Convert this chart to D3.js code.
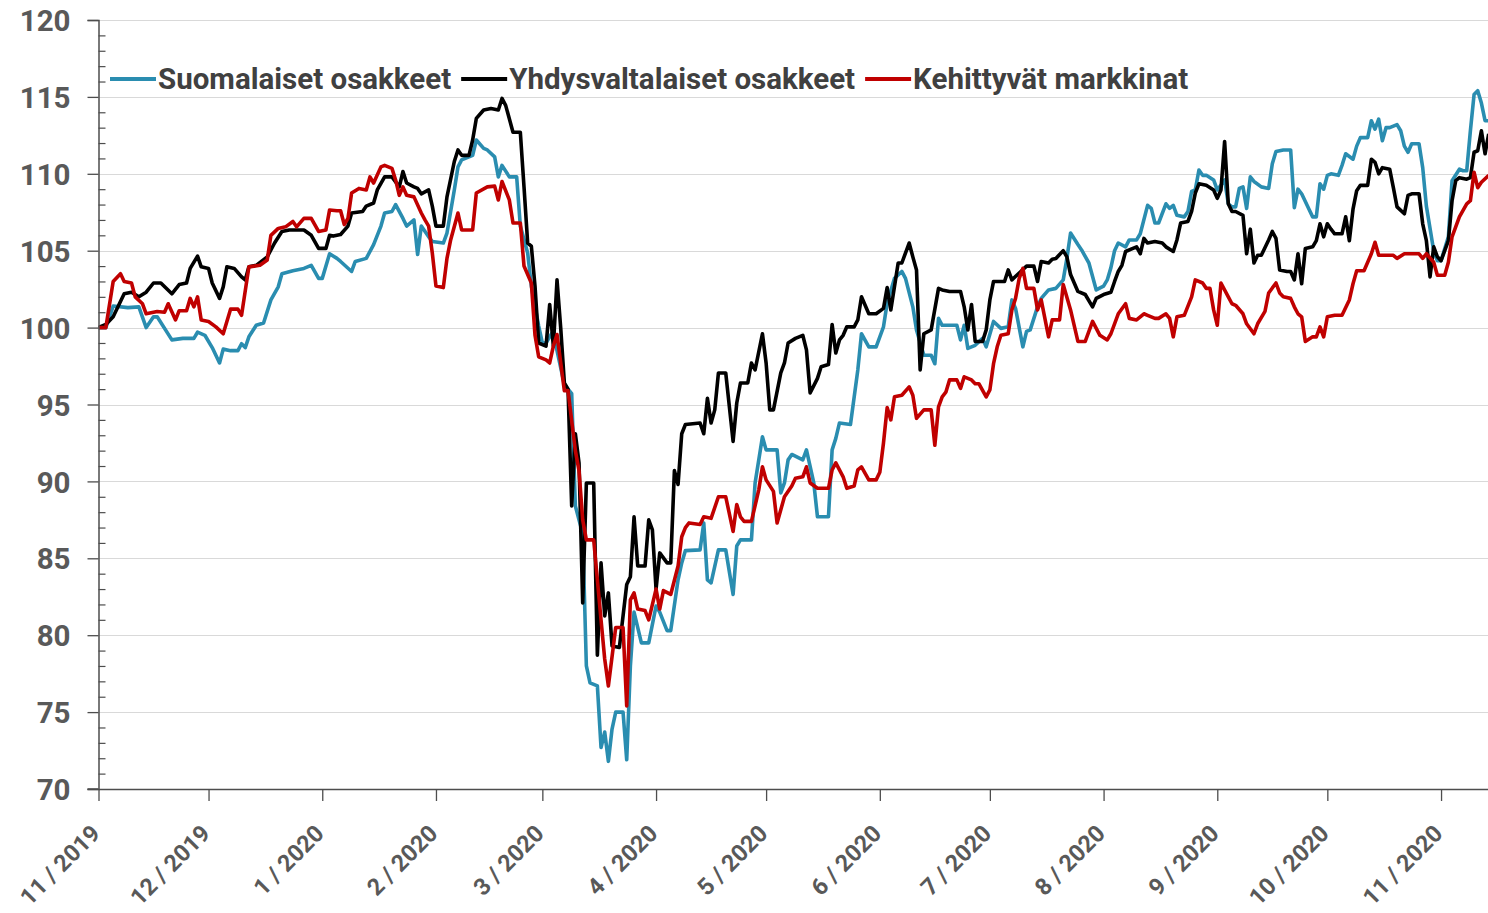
<!DOCTYPE html>
<html><head><meta charset="utf-8">
<script src="https://cdn.jsdelivr.net/npm/d3@7"></script>
<style>
html,body{margin:0;padding:0;background:#fff;overflow:hidden;}
svg{display:block;}
text{font-family:Roboto,"Noto Sans",sans-serif;}
</style></head><body>
<svg id="chart" width="1488" height="913"></svg>
<script>
// ---- data (day offsets from startDate, index value) ----
const startDate = [2019, 10, 1];          // 1 Nov 2019
const endDay = 378.8;                       // visible end of the time axis
const yTicks = [70, 75, 80, 85, 90, 95, 100, 105, 110, 115, 120];
const xTickMonths = [[2019,10],[2019,11],[2020,0],[2020,1],[2020,2],[2020,3],[2020,4],[2020,5],[2020,6],[2020,7],[2020,8],[2020,9],[2020,10]];
const xTickLabels = ["11 / 2019","12 / 2019","1 / 2020","2 / 2020","3 / 2020","4 / 2020","5 / 2020","6 / 2020","7 / 2020","8 / 2020","9 / 2020","10 / 2020","11 / 2020"];
const seriesNames = ["Suomalaiset osakkeet", "Yhdysvaltalaiset osakkeet", "Kehittyvät markkinat"];
const seriesColors = ["#2a8db0", "#000000", "#c00000"];

const suomalaiset = [[0,100],[2,100],[4,101.4],[8,101.3],[11,101.35],[13,100.0],[15,100.7],[16,100.7],[20,99.2],[23,99.3],[26,99.3],[27,99.7],[29,99.5],[31,98.7],[33,97.7],[34,98.6],[36,98.5],[38,98.5],[39,98.95],[40,98.7],[41,99.4],[43,100.15],[45,100.3],[47,101.8],[49,102.65],[50,103.5],[53,103.7],[56,103.85],[58,104.05],[60,103.2],[61,103.2],[63,104.8],[65,104.5],[66,104.3],[69,103.65],[70,104.3],[73,104.5],[75,105.4],[77,106.6],[78,107.45],[80,107.55],[81,108.0],[83,107.1],[84,106.6],[86,107.0],[87,104.75],[88,106.6],[90,105.9],[91,105.6],[94,105.5],[95,106.15],[97,108.95],[98,110.45],[99,110.9],[102,111.2],[103,112.2],[105,111.65],[106,111.55],[108,111.1],[109,109.8],[110,110.55],[112,109.8],[114,109.8],[115,106.6],[117,104.85],[118,102.7],[120,100.1],[121,99.0],[122,99.0],[124,99.8],[125,98.5],[127,96.3],[129,95.7],[130,88.4],[132,86.6],[133,78.0],[134,76.9],[136,76.7],[137,72.7],[138,73.7],[139,71.8],[140,73.9],[141,75.0],[143,75.0],[144,71.9],[145,78.0],[146,81.5],[148,79.5],[150,79.5],[152,81.9],[153,81.5],[155,80.3],[156,80.3],[158,83.6],[159,84.7],[160,85.5],[164,85.55],[165,87.3],[166,83.6],[167,83.4],[169,85.55],[171,85.55],[173,82.65],[174,85.8],[175,86.2],[178,86.2],[179,89.9],[181,92.9],[182,92.05],[185,92.05],[186,89.25],[187,89.9],[188,91.4],[189,91.75],[192,91.4],[193,92.05],[195,89.9],[196,87.7],[199,87.7],[200,92.05],[201,92.8],[202,93.8],[205,93.7],[207,97.25],[208,99.6],[210,98.75],[212,98.75],[214,100.05],[215,101.6],[217,103.2],[219,103.65],[220,103.2],[222,101.35],[223,99.85],[225,98.2],[227,98.2],[228,97.65],[229,100.6],[230,100.15],[234,100.15],[235,99.2],[236,100.15],[237,98.65],[239,98.85],[241,99.3],[242,98.75],[244,100.4],[246,99.95],[248,100.05],[249,101.8],[250,101.25],[252,98.75],[253,99.75],[254,99.85],[256,101.35],[257,101.9],[259,102.45],[261,102.55],[263,103.1],[264,104.5],[265,106.15],[267,105.4],[268,105.05],[270,104.2],[272,102.45],[274,102.7],[275,103.1],[276,103.9],[277,105.0],[278,105.5],[280,105.25],[281,105.7],[283,105.7],[284,106.1],[286,107.95],[287,107.75],[288,106.8],[289,106.8],[291,108.05],[292,107.75],[293,107.95],[294,107.3],[296,107.2],[297,107.55],[298,108.85],[299,108.95],[300,110.25],[301,109.9],[302,109.9],[304,109.6],[305,108.95],[307,109.6],[308,108.05],[309,107.85],[310,107.85],[311,109.05],[312,109.15],[313,107.75],[314,109.8],[315,109.5],[317,109.15],[319,109.05],[320,110.65],[321,111.45],[323,111.55],[325,111.55],[326,107.8],[327,109.0],[328,108.7],[330,107.7],[331,107.2],[332,107.2],[333,109.35],[334,109.0],[335,109.9],[336,110.0],[338,109.9],[339,110.55],[340,111.3],[342,110.95],[343,111.8],[344,112.35],[346,112.35],[347,113.45],[348,112.9],[349,113.55],[350,112.15],[351,113.0],[352,113.0],[354,113.2],[355,112.8],[356,111.8],[357,111.4],[358,111.95],[360,111.95],[361,110.4],[362,107.9],[364,105.0],[365,104.35],[366,104.35],[368,105.9],[369,109.55],[371,110.3],[372,110.2],[373,110.2],[374,112.8],[375,115.15],[376,115.4],[377,114.6],[378,113.45],[379,113.45]];

const yhdysvaltalaiset = [[0,100],[2,100.2],[4,100.7],[7,102.2],[9,102.3],[11,102.0],[13,102.3],[15,102.9],[17,102.9],[20,102.2],[22,102.8],[24,102.9],[25,103.85],[27,104.65],[28,103.95],[30,103.85],[31,102.9],[33,101.9],[34,102.65],[35,103.95],[37,103.85],[39,103.3],[40,103.1],[41,103.95],[43,104.05],[46,104.6],[48,105.5],[50,106.25],[52,106.35],[56,106.35],[58,106.0],[60,105.15],[62,105.15],[63,106.0],[64,105.95],[66,106.05],[68,106.6],[69,107.45],[72,107.55],[73,107.9],[75,108.1],[76,108.95],[78,109.8],[80,109.8],[82,109.15],[83,110.15],[84,109.4],[86,109.15],[87,109.05],[88,108.7],[90,108.95],[91,107.9],[92,106.6],[94,106.6],[95,108.5],[97,110.8],[98,111.55],[99,111.2],[101,111.2],[102,112.2],[103,113.6],[105,114.15],[107,114.25],[109,114.15],[110,114.9],[111,114.45],[113,112.7],[115,112.7],[116,109.15],[117,105.5],[118,105.3],[119,102.7],[120,99.0],[122,98.8],[123,101.5],[124,98.8],[125,103.1],[126,100.0],[127,96.4],[128,96.0],[129,88.4],[130,93.1],[131,91.2],[132,82.1],[133,89.9],[135,89.9],[136,78.7],[137,84.7],[138,81.25],[139,82.75],[140,79.3],[142,79.2],[144,83.3],[145,83.8],[146,87.7],[147,84.5],[149,84.5],[150,87.5],[151,86.85],[152,83.0],[153,85.35],[155,84.7],[156,84.7],[157,90.7],[158,89.8],[159,93.1],[160,93.7],[164,93.8],[165,93.1],[166,95.4],[167,93.8],[168,94.65],[169,97.05],[171,97.05],[173,92.6],[174,95.1],[175,96.4],[177,96.4],[178,97.7],[179,97.25],[181,99.6],[182,97.7],[183,94.65],[184,94.65],[186,97.05],[187,97.7],[188,99.0],[190,99.3],[192,99.5],[193,98.55],[194,95.75],[196,96.7],[197,97.45],[199,97.6],[200,100.2],[201,98.35],[202,99.2],[203,99.5],[204,100.05],[206,100.05],[207,100.5],[208,102.0],[210,100.9],[212,100.9],[214,101.25],[215,102.6],[216,101.15],[218,104.2],[219,104.2],[221,105.5],[222,104.6],[223,103.75],[224,97.25],[225,99.6],[227,99.85],[229,102.55],[230,102.45],[232,102.35],[235,102.35],[236,101.35],[237,99.85],[238,101.5],[239,99.1],[241,99.1],[242,99.85],[243,101.8],[244,103.0],[247,103.0],[248,103.75],[249,103.1],[251,103.55],[253,104.0],[255,104.0],[256,103.0],[257,104.3],[259,104.2],[260,104.45],[261,104.5],[263,105.0],[264,104.6],[265,103.45],[267,102.35],[269,102.15],[271,101.35],[272,101.9],[274,102.15],[276,102.3],[277,103.0],[278,103.65],[279,104.05],[280,104.95],[282,105.15],[283,105.25],[284,104.8],[285,105.8],[286,105.5],[288,105.6],[290,105.5],[291,105.25],[293,104.95],[294,105.7],[295,106.8],[297,106.9],[298,107.55],[299,108.75],[300,109.35],[302,109.25],[304,108.95],[305,108.4],[306,108.95],[307,112.1],[308,108.05],[309,107.55],[310,107.55],[312,107.3],[313,104.8],[314,106.4],[315,104.2],[316,104.7],[317,104.7],[319,105.7],[320,106.25],[321,105.8],[322,103.75],[324,103.65],[325,103.65],[326,103.1],[327,104.8],[328,102.85],[329,105.15],[331,105.25],[332,105.65],[333,106.75],[334,105.9],[335,106.75],[336,106.4],[337,106.1],[339,106.1],[340,107.2],[341,105.65],[342,107.7],[343,108.9],[344,109.25],[346,109.25],[347,110.95],[348,110.75],[349,110.0],[350,110.4],[352,110.3],[353,109.1],[354,107.85],[356,107.4],[357,108.6],[358,108.7],[360,108.7],[361,106.75],[362,105.65],[363,103.3],[364,105.25],[365,104.6],[366,104.35],[368,105.65],[369,108.25],[370,109.55],[371,109.75],[373,109.65],[374,109.75],[375,111.4],[376,111.5],[377,112.8],[378,111.3],[379,112.6]];

const kehittyvat = [[0,100],[2,100],[4,103.0],[6,103.5],[7,103.0],[9,102.9],[10,102.0],[12,101.55],[13,100.9],[16,101.05],[18,101.0],[19,101.55],[21,100.5],[22,101.1],[24,101.1],[25,101.9],[26,101.35],[27,102.0],[28,100.5],[30,100.4],[32,100.05],[34,99.6],[36,101.2],[38,101.2],[39,100.8],[41,103.95],[44,104.05],[46,104.4],[47,106.0],[49,106.45],[51,106.55],[53,106.9],[54,106.55],[56,107.1],[58,107.1],[60,106.25],[62,106.35],[63,107.65],[65,107.6],[66,107.6],[67,106.7],[68,107.1],[69,108.75],[71,109.05],[73,108.95],[74,109.8],[75,109.4],[77,110.45],[78,110.55],[80,110.35],[81,109.6],[82,108.6],[83,109.15],[84,108.6],[86,108.5],[88,107.45],[89,107.0],[90,106.6],[91,104.85],[92,102.7],[94,102.6],[95,104.5],[96,105.7],[98,107.45],[99,106.35],[102,106.35],[103,108.75],[106,109.15],[108,109.2],[109,108.3],[110,109.5],[112,108.3],[113,106.8],[115,106.8],[116,104.0],[118,102.9],[119,99.5],[120,98.1],[122,97.9],[123,97.7],[124,98.8],[125,99.55],[127,95.9],[128,95.9],[130,92.0],[131,90.7],[132,87.5],[133,86.2],[135,86.2],[137,81.0],[138,78.45],[139,76.7],[141,80.5],[143,80.5],[144,75.4],[145,82.3],[146,82.75],[147,81.7],[149,81.6],[150,81.0],[152,83.0],[153,81.7],[154,82.9],[156,82.65],[158,84.5],[159,86.4],[160,87.0],[161,87.3],[164,87.2],[165,87.7],[167,87.6],[169,89.0],[171,89.0],[173,86.75],[174,88.5],[175,87.7],[176,87.4],[178,87.4],[180,89.45],[181,90.95],[182,90.1],[184,89.35],[185,87.3],[187,89.0],[189,89.7],[190,90.2],[192,90.3],[193,90.95],[194,89.9],[196,89.55],[199,89.55],[200,90.75],[201,91.2],[203,90.3],[204,89.55],[206,89.7],[207,90.75],[208,90.95],[210,90.1],[212,90.1],[213,90.6],[214,92.5],[215,94.8],[216,94.0],[217,95.5],[219,95.6],[221,96.15],[222,95.6],[223,94.1],[225,94.65],[227,94.65],[228,92.35],[229,94.85],[230,95.5],[231,95.8],[232,96.6],[234,96.6],[235,96.05],[236,96.8],[238,96.6],[239,96.35],[240,96.35],[242,95.5],[243,95.95],[244,97.65],[245,98.75],[246,99.5],[248,99.6],[249,101.15],[250,101.9],[251,103.2],[252,103.85],[253,102.55],[255,102.55],[256,101.15],[257,101.8],[259,99.4],[260,100.5],[262,100.5],[263,102.8],[265,101.15],[267,99.1],[269,99.1],[271,100.4],[273,99.5],[275,99.2],[276,99.6],[278,100.9],[280,101.55],[281,100.6],[283,100.5],[285,100.9],[286,100.8],[288,100.6],[289,100.6],[291,100.9],[292,100.6],[293,99.4],[294,100.7],[296,100.8],[298,102.0],[299,103.1],[301,102.9],[302,102.55],[303,102.55],[304,101.15],[305,100.15],[306,102.9],[308,102.0],[309,101.55],[310,101.45],[312,100.9],[313,100.25],[315,99.6],[316,100.25],[318,101.05],[319,102.25],[321,102.9],[322,102.25],[323,102.0],[325,101.9],[326,101.35],[327,100.9],[328,100.7],[329,99.1],[331,99.4],[332,99.4],[333,100.05],[334,99.4],[335,100.7],[337,100.8],[339,100.8],[341,101.8],[342,102.85],[343,103.7],[345,103.7],[347,104.8],[348,105.55],[349,104.7],[351,104.7],[353,104.7],[354,104.5],[356,104.8],[358,104.8],[360,104.8],[361,104.5],[362,104.8],[364,104.25],[365,103.4],[367,103.4],[368,104.25],[369,105.9],[371,107.2],[373,108.05],[374,108.25],[375,110.1],[376,109.1],[377,109.45],[379,109.9]];

// ---- chart ----
const plot = {left: 98.5, right: 1488, top: 20, bottom: 789};
const t0 = Date.UTC(startDate[0], startDate[1], startDate[2]);
const dayMs = 864e5;
const toDate = d => new Date(t0 + d * dayMs);

const x = d3.scaleUtc().domain([toDate(0), toDate(endDay)]).range([plot.left, plot.right]);
const y = d3.scaleLinear().domain([70, 120]).range([plot.bottom, plot.top]);

const svg = d3.select("#chart");
const axisColor = "#4d4d4d";
const labelColor = "#595959";

// gridlines
svg.append("g").selectAll("line").data(yTicks.filter(v => v > 70)).join("line")
  .attr("x1", plot.left).attr("x2", plot.right)
  .attr("y1", d => Math.round(y(d)) + 0.5).attr("y2", d => Math.round(y(d)) + 0.5)
  .attr("stroke", "#d9d9d9").attr("stroke-width", 1.2);

// clip
svg.append("clipPath").attr("id", "clip").append("rect")
  .attr("x", plot.left).attr("y", 0).attr("width", plot.right - plot.left).attr("height", plot.bottom + 2);

// lines
const line = d3.line().x(d => x(toDate(d[0]))).y(d => y(d[1])).curve(d3.curveLinear);
const allSeries = [suomalaiset, yhdysvaltalaiset, kehittyvat];
const gLines = svg.append("g").attr("clip-path", "url(#clip)");
allSeries.forEach((s, i) => {
  gLines.append("path").datum(s).attr("d", line)
    .attr("fill", "none").attr("stroke", seriesColors[i])
    .attr("stroke-width", 3.6).attr("stroke-linejoin", "round").attr("stroke-linecap", "butt");
});

// y axis: major ticks outside with labels, minor ticks inside
const yAxisMajor = d3.axisLeft(y).tickValues(yTicks).tickSize(11).tickPadding(17).tickFormat(d3.format("d"));
const gY = svg.append("g").attr("transform", `translate(${plot.left},0)`).call(yAxisMajor);
gY.select(".domain").attr("stroke", axisColor).attr("stroke-width", 1.5);
gY.selectAll(".tick line").attr("stroke", axisColor).attr("stroke-width", 1.3);
gY.selectAll(".tick text").attr("fill", labelColor).attr("font-size", 29.5).attr("font-weight", 700)
  .attr("font-family", "Roboto, sans-serif").attr("dy", "0.36em");
const minorVals = d3.range(70, 121, 1).filter(v => !yTicks.includes(v));
const gYm = svg.append("g").attr("transform", `translate(${plot.left},0)`)
  .call(d3.axisRight(y).tickValues(minorVals).tickSize(7).tickFormat(""));
gYm.select(".domain").remove();
gYm.selectAll(".tick line").attr("stroke", axisColor).attr("stroke-width", 1.2);

// x axis
const xTickDates = xTickMonths.map(m => new Date(Date.UTC(m[0], m[1], 1)));
const xAxis = d3.axisBottom(x).tickValues(xTickDates).tickSize(12).tickSizeOuter(0)
  .tickFormat((d, i) => xTickLabels[i]);
const gX = svg.append("g").attr("transform", `translate(0,${plot.bottom})`).call(xAxis);
gX.select(".domain").attr("stroke", axisColor).attr("stroke-width", 1.5);
gX.selectAll(".tick line").attr("stroke", axisColor).attr("stroke-width", 1.3);
gX.selectAll(".tick text").attr("fill", labelColor).attr("font-size", 23.5).attr("font-weight", 700)
  .attr("font-family", "Roboto, sans-serif")
  .attr("text-anchor", "end").attr("dy", null)
  .attr("transform", "translate(2.5,46) rotate(-45)").attr("x", 0).attr("y", 0);
svg.append("line").attr("x1", plot.left - 11).attr("x2", plot.left).attr("y1", plot.bottom).attr("y2", plot.bottom)
  .attr("stroke", axisColor).attr("stroke-width", 1.5);

// legend
const legend = svg.append("g");
let lx = 110;
const ly = 79;
seriesNames.forEach((name, i) => {
  legend.append("line").attr("x1", lx).attr("x2", lx + 46).attr("y1", ly).attr("y2", ly)
    .attr("stroke", seriesColors[i]).attr("stroke-width", 4);
  const t = legend.append("text").attr("x", lx + 48).attr("y", ly + 10)
    .attr("font-size", 29.5).attr("font-weight", 700).attr("fill", "#404040")
    .attr("font-family", "Roboto, sans-serif").text(name);
  lx = lx + 48 + t.node().getComputedTextLength() + 10;
});
</script>
</body></html>
